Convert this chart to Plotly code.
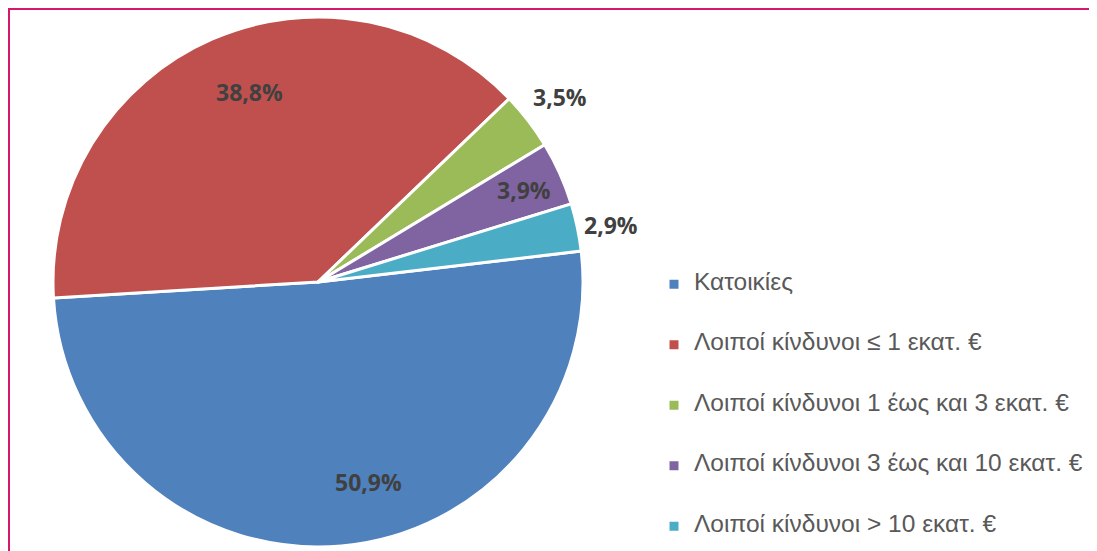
import math
import plotly.graph_objects as go

labels = ["Κατοικίες",
          "Λοιποί κίνδυνοι ≤ 1 εκατ. €",
          "Λοιποί κίνδυνοι 1 έως και 3 εκατ. €",
          "Λοιποί κίνδυνοι 3 έως και 10 εκατ. €",
          "Λοιποί κίνδυνοι > 10 εκατ. €"]
shares = [50.9, 38.8, 3.5, 3.9, 2.9]
colors = ["#4F81BD", "#C0504D", "#9BBB59", "#8064A2", "#4BACC6"]

# where the % labels sit: fraction of radius + small angle nudge (deg)
label_r = [0.777, 0.762, 1.149, 0.85, 1.128]
label_nudge = [-9.1, 3.8, 0, 0, 0.9]

W, H = 1097, 551
cx, cy, rad = 310, 274, 265   # pie centre / radius in figure px
rot = 83.3

# blank lines around each entry just to space the legend rows out
leg_text = ["\u00a0<br><span style='font-size:24.5px'>" + t + "</span><br>\u00a0" for t in labels]

fig = go.Figure()
fig.add_trace(go.Pie(
    labels=leg_text,
    values=shares,
    sort=False,
    direction="clockwise",
    rotation=rot,
    textinfo="none",
    marker=dict(colors=colors, line=dict(color="white", width=3)),
    domain=dict(x=[(cx - rad) / W, (cx + rad) / W],
                y=[(H - cy - rad) / H, (H - cy + rad) / H]),
    hoverinfo="percent",
))

# percent labels
total = sum(shares)
cum = 0
for v, f, nd in zip(shares, label_r, label_nudge):
    a = math.radians(rot + 360 * (cum + v / 2) / total + nd)
    cum += v
    px_ = cx + f * rad * math.sin(a)
    py_ = cy - f * rad * math.cos(a)
    fig.add_annotation(
        x=px_ / W, y=1 - py_ / H, xref="paper", yref="paper",
        text=("%.1f%%" % v).replace(".", ","), showarrow=False,
        xanchor="center", yanchor="middle",
        font=dict(family="Open Sans", size=23, color="#404040", weight="bold"),
    )

# magenta frame round the chart (right/bottom run off the page)
fig.add_shape(type="rect", xref="paper", yref="paper",
              x0=1 / W, x1=1.02, y0=-0.02, y1=1 - 1 / H,
              line=dict(color="#D6186C", width=2))

fig.update_layout(
    width=W, height=H,
    margin=dict(l=0, r=0, t=0, b=0, autoexpand=False),
    paper_bgcolor="white",
    showlegend=True,
    legend=dict(x=646 / W, xanchor="left", y=1 - 241 / H, yanchor="top",
                font=dict(family="Liberation Sans", size=14.74, color="#595959"),
                bgcolor="rgba(0,0,0,0)"),
)

fig.write_html("out.html")
